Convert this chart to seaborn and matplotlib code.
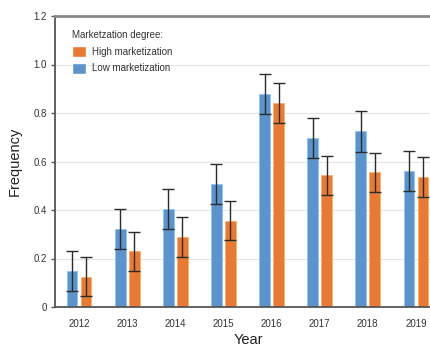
import matplotlib
matplotlib.use("Agg")
import matplotlib.pyplot as plt
from matplotlib.patches import Patch
import seaborn as sns
import pandas as pd

years = ["2012", "2013", "2014", "2015", "2016", "2017", "2018", "2019"]
low_freq = [0.148, 0.322, 0.404, 0.507, 0.878, 0.697, 0.724, 0.560]
low_err = [0.084, 0.083, 0.083, 0.083, 0.084, 0.083, 0.083, 0.083]
high_freq = [0.125, 0.230, 0.289, 0.356, 0.842, 0.543, 0.555, 0.535]
high_err = [0.081, 0.080, 0.081, 0.080, 0.082, 0.081, 0.081, 0.082]
groups = ["Low marketization", "High marketization"]
y_ticks = [0, 0.2, 0.4, 0.6, 0.8, 1.0, 1.2]
y_tick_labels = ["0", "0.2", "0.4", "0.6", "0.8", "1.0", "1.2"]

colors = {"Low marketization": "#5B93CA", "High marketization": "#E77B34"}

df = pd.DataFrame({
    "Year": years * 2,
    "Frequency": low_freq + high_freq,
    "Group": [groups[0]] * len(years) + [groups[1]] * len(years),
    "Err": low_err + high_err,
})

sns.set_style("white")
plt.rcParams["font.family"] = ["Liberation Sans", "DejaVu Sans"]

fig = plt.figure(figsize=(4.31, 3.46), dpi=100)
ax = fig.add_axes([55 / 431, 1 - 307 / 346, (440 - 55) / 431, (307 - 16) / 346])

sns.barplot(data=df, x="Year", y="Frequency", hue="Group", hue_order=groups,
            palette=colors, saturation=1, width=0.58, gap=0.235, errorbar=None,
            linewidth=0.6, ax=ax, legend=False, zorder=2)

# lighten bar outlines and add error bars on each bar center
bars = [p for p in ax.patches if p.get_height() > 0]
errs = low_err + high_err
vals = low_freq + high_freq
for bar, e, v in zip(bars, errs, vals):
    fc = bar.get_facecolor()
    bar.set_edgecolor((min(fc[0] + 0.2, 1), min(fc[1] + 0.2, 1), min(fc[2] + 0.2, 1), 1))
    cx = bar.get_x() + bar.get_width() / 2
    ax.errorbar(cx, v, yerr=e, color="#2b2b2b", lw=1.0, capsize=4.5,
                capthick=1.0, zorder=3)

ax.set_xlim(-0.5, 7.5)
ax.set_ylim(0, 1.2)
ax.set_yticks(y_ticks)
ax.set_yticklabels(y_tick_labels)
ax.yaxis.grid(True, color="#e6e6e6", lw=0.8, zorder=0)
ax.set_axisbelow(True)

for side in ["left", "bottom"]:
    ax.spines[side].set_color("#555555")
    ax.spines[side].set_linewidth(1.3)
ax.spines["top"].set_color("#8a8a8a")
ax.spines["top"].set_linewidth(2.0)
ax.spines["right"].set_visible(False)

ax.tick_params(axis="y", which="both", left=True, length=3, width=1,
               color="#555555", labelsize=7, labelcolor="#333333", pad=3)
ax.tick_params(axis="x", bottom=False, labelsize=7, labelcolor="#333333", pad=5)

ax.set_xlabel("Year", fontsize=10.5, color="#222222")
ax.set_ylabel("Frequency", fontsize=10.5, color="#222222")
ax.xaxis.set_label_coords(0.502, -0.088)
ax.yaxis.set_label_coords(-0.087, 0.5)

handles = [Patch(facecolor=colors["High marketization"], label="High marketization"),
           Patch(facecolor=colors["Low marketization"], label="Low marketization")]
leg = ax.legend(handles=handles, title="Marketzation degree:", loc="upper left",
                bbox_to_anchor=(0.035, 0.965), frameon=False, fontsize=7,
                title_fontsize=7, handlelength=1.45, handleheight=1.35,
                handletextpad=0.55, labelspacing=0.6, borderaxespad=0)
leg._legend_box.align = "left"
for t in leg.get_texts():
    t.set_color("#333333")
leg.get_title().set_color("#333333")

fig.savefig("out.png", dpi=100)
